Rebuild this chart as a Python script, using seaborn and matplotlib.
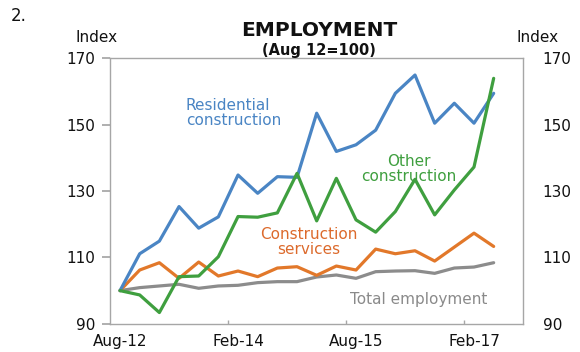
import matplotlib
matplotlib.use("Agg")
import matplotlib.pyplot as plt
import pandas as pd
import seaborn as sns

# quarterly index, Aug 12 = 100
quarters = ["Aug-12", "Nov-12", "Feb-13", "May-13", "Aug-13", "Nov-13", "Feb-14",
            "May-14", "Aug-14", "Nov-14", "Feb-15", "May-15", "Aug-15", "Nov-15",
            "Feb-16", "May-16", "Aug-16", "Nov-16", "Feb-17", "May-17"]
residential = [100.0, 111.1, 114.9, 125.3, 118.8, 122.2, 134.8, 129.3, 134.3, 134.1,
               153.4, 141.9, 143.9, 148.3, 159.4, 164.9, 150.4, 156.4, 150.4, 159.4]
other = [100.0, 98.7, 93.4, 104.2, 104.4, 110.2, 122.3, 122.1, 123.4, 135.3,
         121.0, 133.8, 121.3, 117.6, 123.8, 133.5, 122.8, 130.3, 137.2, 163.9]
services = [100.0, 106.2, 108.4, 103.7, 108.6, 104.4, 105.9, 104.2, 106.8, 107.2,
            104.6, 107.4, 106.2, 112.5, 111.1, 112.0, 108.9, 113.1, 117.3, 113.3]
total = [100.0, 100.9, 101.4, 101.9, 100.7, 101.4, 101.6, 102.4, 102.7, 102.7,
         104.1, 104.7, 103.7, 105.7, 105.9, 106.0, 105.2, 106.8, 107.1, 108.4]
tick_labels = ["Aug-12", "Feb-14", "Aug-15", "Feb-17"]
y_ticks = [90, 110, 130, 150, 170]

colors = {
    "Total employment": "#8c8c8c",
    "Construction services": "#e2782a",
    "Residential construction": "#4a85c4",
    "Other construction": "#3f9f3f",
}

sns.set_theme(style="white")
plt.rcParams["font.family"] = ["DejaVu Sans"]

series = {
    "Total employment": total,
    "Construction services": services,
    "Residential construction": residential,
    "Other construction": other,
}
df = pd.concat(
    [pd.DataFrame({"q": range(len(quarters)), "value": v, "series": k}) for k, v in series.items()],
    ignore_index=True,
)

fig = plt.figure(figsize=(5.8, 3.52), dpi=100)
ax = fig.add_axes([0.19, 0.08, 0.712, 0.755])
sns.lineplot(data=df, x="q", y="value", hue="series", hue_order=list(series),
             palette=colors, lw=2.3, legend=False, ax=ax)

ax.set_xlim(-0.5, 20.5)
ax.set_ylim(90, 170)
ax.set_xlabel("")
ax.set_ylabel("")
for s in ax.spines.values():
    s.set_color("#a6a6a6")
    s.set_linewidth(1.0)

major = [quarters.index(t) for t in tick_labels]
ax.set_xticks(major)
ax.set_xticklabels(tick_labels, fontsize=11, color="#111")
ax.set_xticks([m - 0.5 for m in major[1:]], minor=True)
ax.tick_params(axis="x", which="major", length=0, pad=7)
ax.tick_params(axis="x", which="minor", direction="in", length=3, color="#a6a6a6", bottom=True)
ax.set_yticks(y_ticks)
ax.tick_params(axis="y", length=6, color="#a6a6a6", labelsize=11, labelcolor="#111", pad=5, left=True)

ax2 = ax.twinx()
ax2.set_ylim(ax.get_ylim())
ax2.set_yticks(y_ticks)
ax2.tick_params(axis="y", length=0, labelsize=11, labelcolor="#111", pad=14)
for s in ax2.spines.values():
    s.set_visible(False)
ax2.grid(False)

fig.text(0.018, 0.955, "2.", fontsize=12, color="#111", va="center")
fig.text(0.55, 0.914, "EMPLOYMENT", fontsize=14.5, fontweight="bold", ha="center", va="center", color="#111")
fig.text(0.55, 0.857, "(Aug 12=100)", fontsize=10.5, fontweight="bold", ha="center", va="center", color="#111")
fig.text(0.166, 0.893, "Index", fontsize=11, ha="center", va="center", color="#111")
fig.text(0.926, 0.893, "Index", fontsize=11, ha="center", va="center", color="#111")

ax.text(3.35, 153.5, "Residential\nconstruction", fontsize=11, color=colors["Residential construction"],
        ha="left", va="center", linespacing=1.0)
ax.text(14.7, 136.5, "Other\nconstruction", fontsize=11, color=colors["Other construction"],
        ha="center", va="center", linespacing=1.0)
ax.text(9.6, 114.5, "Construction\nservices", fontsize=11, color="#dc6a2c",
        ha="center", va="center", linespacing=1.0)
ax.text(15.2, 97.4, "Total employment", fontsize=11, color="#8a8a8a", ha="center", va="center")

fig.savefig("out.png", dpi=100)
